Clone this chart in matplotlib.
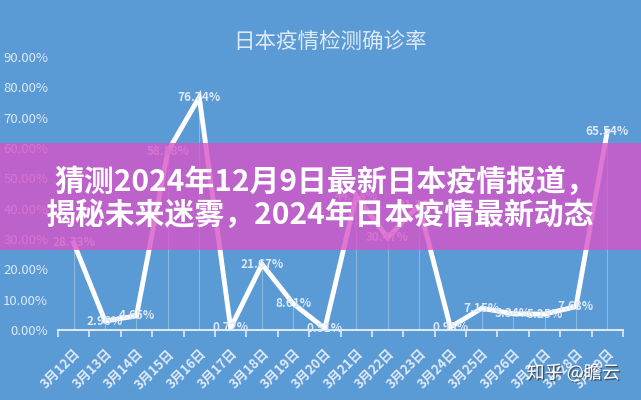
import matplotlib
matplotlib.use("Agg")
import matplotlib.pyplot as plt
import matplotlib.patches as patches
import matplotlib.patheffects as pe

plt.rcParams['font.family'] = ['Noto Sans CJK SC', 'DejaVu Sans']

# === données
dates = ["3月12日", "3月13日", "3月14日", "3月15日", "3月16日", "3月17日",
         "3月18日", "3月19日", "3月20日", "3月21日", "3月22日", "3月23日",
         "3月24日", "3月25日", "3月26日", "3月27日", "3月28日", "3月29日"]
rates = [28.73, 2.96, 4.65, 58.88, 76.74, 0.72, 21.67, 8.61, 0.51,
         44.14, 30.47, 41.20, 0.95, 7.15, 5.34, 5.25, 7.68, 65.54]
yticks = [0, 10, 20, 30, 40, 50, 60, 70, 80, 90]

title = "日本疫情检测确诊率"
banner = ["猜测2024年12月9日最新日本疫情报道，", "揭秘未来迷雾，2024年日本疫情最新动态"]
watermark = "知乎 @瞻云"

bg = "#5a9ad5"
light = "#dfe9f5"

# === figure
fig = plt.figure(figsize=(6.41, 4.0), dpi=100, facecolor=bg)
ax = fig.add_axes([58/641, 1-330/400, (623-58)/641, (330-57)/400])
ax.set_facecolor(bg)

x = list(range(len(dates)))
ax.vlines(x, 0, rates, colors="white", lw=0.8, alpha=0.3, zorder=1)
ax.plot(x, rates, color="white", lw=3.5, solid_joinstyle="miter", zorder=3)

for xi, v in zip(x, rates):
    ax.text(xi, v, f"{v:.2f}%", ha="center", va="center", fontsize=8.5,
            fontweight="bold", color=light, zorder=4)

ax.set_xlim(-0.5, len(dates) - 0.5)
ax.set_ylim(0, 90)
ax.set_yticks(yticks)
ax.set_yticklabels([f"{t:.2f}%" for t in yticks], fontsize=9.5, color=light)
ax.tick_params(axis="y", length=0, pad=7)

ax.set_xticks(x)
ax.set_xticklabels(dates, rotation=45, ha="right", rotation_mode="anchor",
                   fontsize=9.5, fontweight="bold", color=light)
ax.tick_params(axis="x", length=0, pad=12)
ax.set_xticks([i - 0.5 for i in range(len(dates) + 1)], minor=True)
ax.tick_params(axis="x", which="minor", length=5, width=1.2, color=light)

for s in ["top", "right", "left"]:
    ax.spines[s].set_visible(False)
ax.spines["bottom"].set_color(light)
ax.spines["bottom"].set_linewidth(1.5)

fig.text(0.515, 1-42/400, title, ha="center", va="center", fontsize=15.5,
         color=light)

# === bandeau
rect = patches.Rectangle((0, 1-250/400), 1, 107/400, transform=fig.transFigure,
                         facecolor=(215/255, 85/255, 200/255), alpha=0.8,
                         edgecolor="none", zorder=10)
fig.add_artist(rect)
fig.text(0.508, 1-182/400, banner[0], ha="center", va="center", fontsize=21.5,
         fontweight="bold", color="white", zorder=11)
fig.text(0.5, 1-215/400, banner[1], ha="center", va="center", fontsize=21.5,
         fontweight="bold", color="white", zorder=11)

fig.text(573/641, 1-373/400, watermark, ha="center", va="center", fontsize=13,
         color="white", zorder=11,
         path_effects=[pe.withSimplePatchShadow(offset=(1, -1), shadow_rgbFace="#404040", alpha=0.8)])

fig.savefig("out.png", dpi=100, facecolor=bg)
